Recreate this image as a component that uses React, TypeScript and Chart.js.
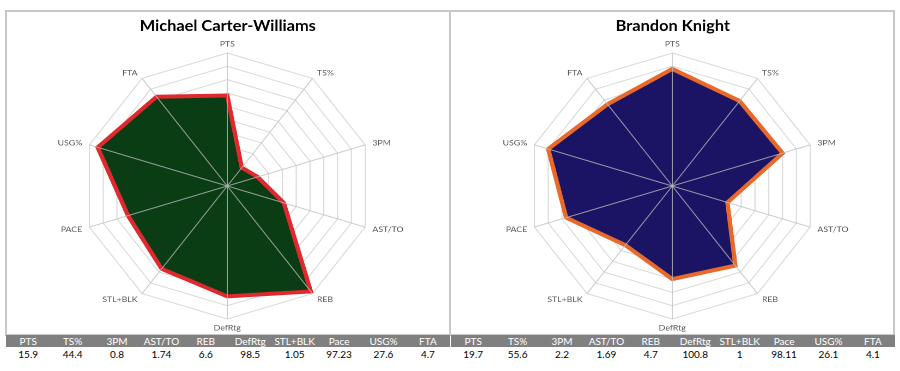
import React, { useEffect, useRef } from "react";
import { Chart, registerables } from "chart.js";
Chart.register(...registerables);

const axisLabels = ["PTS", "TS%", "3PM", "AST/TO", "REB", "DefRtg", "STL+BLK", "PACE", "USG%", "FTA"];
const mcwScores = [6.8, 1.7, 2.2, 4.1, 9.8, 8.3, 7.7, 7.2, 9.4, 8.3];
const knightScores = [8.8, 7.9, 8.0, 4.0, 7.4, 7.0, 5.5, 7.7, 9.0, 7.6];
const tableHeaders = ["PTS", "TS%", "3PM", "AST/TO", "REB", "DefRtg", "STL+BLK", "Pace", "USG%", "FTA"];
const mcwStats = ["15.9", "44.4", "0.8", "1.74", "6.6", "98.5", "1.05", "97.23", "27.6", "4.7"];
const knightStats = ["19.7", "55.6", "2.2", "1.69", "4.7", "100.8", "1", "98.11", "26.1", "4.1"];

const FONT = "Lato, 'Open Sans', sans-serif";
const STRETCH = 1.09;

const spokesAndLabels = {
  id: "spokesAndLabels",
  afterDatasetsDraw(chart: any) {
    const scale = chart.scales.r;
    const ctx = chart.ctx;
    ctx.save();
    ctx.strokeStyle = "rgba(190,190,190,0.75)";
    ctx.lineWidth = 1;
    const n = chart.data.labels.length;
    for (let i = 0; i < n; i++) {
      const p = scale.getPointPositionForValue(i, scale.max);
      ctx.beginPath();
      ctx.moveTo(scale.xCenter, scale.yCenter);
      ctx.lineTo(p.x, p.y);
      ctx.stroke();
    }
    ctx.fillStyle = "#595959";
    ctx.font = `8px ${FONT}`;
    ctx.textBaseline = "middle";
    for (let i = 0; i < n; i++) {
      const vertical = i === 0 || i === n / 2;
      const dist = scale.drawingArea + (vertical ? 9 : 7);
      const p = scale.getPointPosition(i, dist);
      const dx = p.x - scale.xCenter;
      ctx.textAlign = Math.abs(dx) < 1 ? "center" : dx > 0 ? "left" : "right";
      ctx.fillText(chart.data.labels[i], p.x, p.y);
    }
    ctx.restore();
  },
};

function RadarPanel(props: { title: string; values: number[]; fill: string; stroke: string }) {
  const ref = useRef<HTMLCanvasElement>(null);
  useEffect(() => {
    if (!ref.current) return;
    const chart = new Chart(ref.current, {
      type: "radar",
      data: {
        labels: axisLabels,
        datasets: [
          {
            data: props.values,
            backgroundColor: props.fill,
            borderColor: props.stroke,
            borderWidth: 4,
            borderJoinStyle: "miter",
            pointRadius: 0,
            fill: true,
          },
        ],
      },
      options: {
        animation: false,
        responsive: false,
        maintainAspectRatio: false,
        devicePixelRatio: 2,
        layout: { padding: 0 },
        plugins: {
          legend: { display: false },
          tooltip: { enabled: false },
          title: {
            display: true,
            text: props.title,
            color: "#000",
            font: { family: FONT, size: 15, weight: "bold" },
            padding: { top: 6, bottom: 4.4 },
          },
        },
        scales: {
          r: {
            min: 0,
            max: 10,
            ticks: { display: false, stepSize: 1 },
            grid: { color: "#d9d9d9", lineWidth: 1 },
            angleLines: { display: false },
            pointLabels: {
              color: "rgba(0,0,0,0)",
              font: { family: FONT, size: 8 },
              padding: 4,
            },
          },
        },
      },
      plugins: [spokesAndLabels],
    } as any);
    return () => chart.destroy();
  }, []);
  return <canvas ref={ref} width={407} height={322} style={{ display: "block", width: 407, height: 322 }} />;
}

function StatTable(props: { values: string[] }) {
  return (
    <div style={{ width: 444 }}>
      <div style={{ display: "flex", background: "#808080", height: 12, alignItems: "center" }}>
        {tableHeaders.map((h, i) => (
          <div key={i} style={{ flex: 1, textAlign: "center", color: "#fff", fontSize: 10, lineHeight: "12px" }}>
            {h}
          </div>
        ))}
      </div>
      <div style={{ display: "flex", height: 14, alignItems: "center" }}>
        {props.values.map((v, i) => (
          <div key={i} style={{ flex: 1, textAlign: "center", color: "#000", fontSize: 10, lineHeight: "14px" }}>
            {v}
          </div>
        ))}
      </div>
    </div>
  );
}

export default function App() {
  const stretchStyle = { transform: `scaleX(${STRETCH})`, transformOrigin: "0 0" };
  return (
    <div style={{ position: "fixed", left: 0, top: 0, width: 900, height: 371, background: "#fff", fontFamily: FONT, overflow: "hidden" }}>
      <div style={{ position: "absolute", left: 5, top: 10, width: 890, height: 326, border: "2px solid #c8c8c8", boxSizing: "border-box" }} />
      <div style={{ position: "absolute", left: 449, top: 10, width: 2, height: 326, background: "#c8c8c8" }} />
      <div style={{ position: "absolute", left: 6, top: 11, ...stretchStyle }}>
        <RadarPanel title="Michael Carter-Williams" values={mcwScores} fill="#0a3d14" stroke="#e0282f" />
      </div>
      <div style={{ position: "absolute", left: 451, top: 11, ...stretchStyle }}>
        <RadarPanel title="Brandon Knight" values={knightScores} fill="#1b1464" stroke="#e8692a" />
      </div>
      <div style={{ position: "absolute", left: 6, top: 335 }}>
        <StatTable values={mcwStats} />
      </div>
      <div style={{ position: "absolute", left: 451, top: 335 }}>
        <StatTable values={knightStats} />
      </div>
    </div>
  );
}
